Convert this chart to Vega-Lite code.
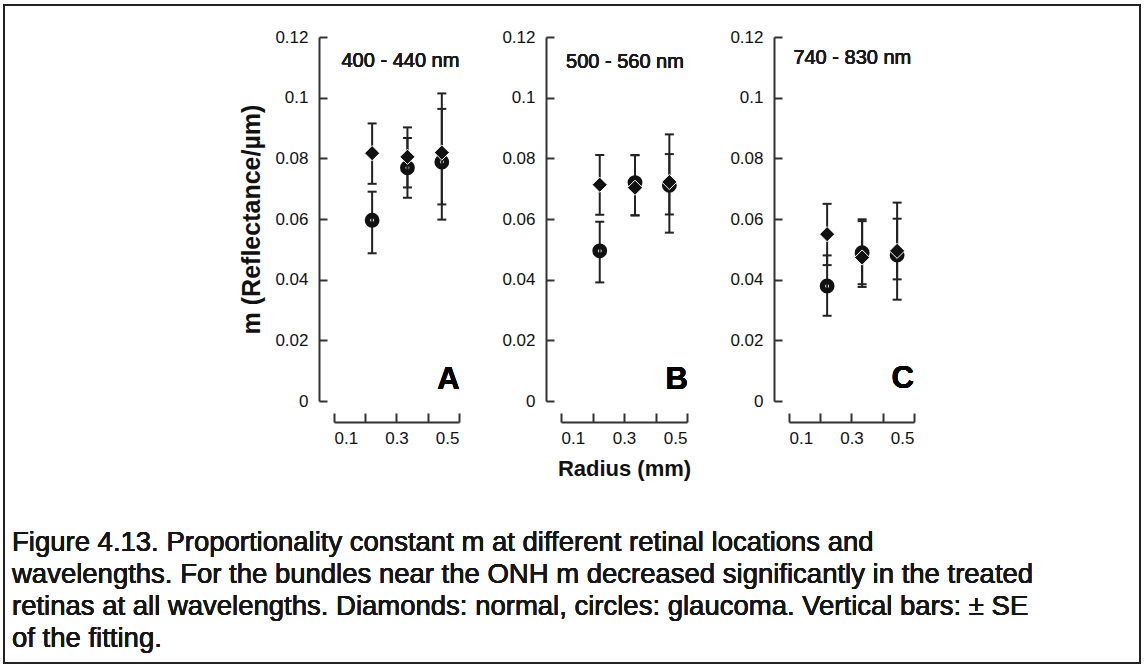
{
  "$schema": "https://vega.github.io/schema/vega-lite/v6.json",
  "padding": {"left": 3, "top": 3, "right": 3, "bottom": 3},
  "background": "white",
  "config": {
    "font": "Liberation Sans",
    "view": {"stroke": null},
    "axis": {"grid": false, "domainColor": "#333", "tickColor": "#333", "domainWidth": 2, "tickWidth": 2, "labelColor": "#111", "labelFont": "Liberation Sans", "labelFontSize": 17, "titleFont": "Liberation Sans", "titleColor": "#111"}
  },
  "datasets": {
    "pts": [
      {"panel": "A", "group": "normal", "radius": 0.222, "m": 0.0817, "lo": 0.0716, "hi": 0.0915},
      {"panel": "A", "group": "glaucoma", "radius": 0.222, "m": 0.0596, "lo": 0.0487, "hi": 0.069},
      {"panel": "A", "group": "normal", "radius": 0.335, "m": 0.0805, "lo": 0.0704, "hi": 0.0902},
      {"panel": "A", "group": "glaucoma", "radius": 0.335, "m": 0.0769, "lo": 0.067, "hi": 0.0867},
      {"panel": "A", "group": "normal", "radius": 0.445, "m": 0.0819, "lo": 0.0648, "hi": 0.1014},
      {"panel": "A", "group": "glaucoma", "radius": 0.445, "m": 0.0788, "lo": 0.0598, "hi": 0.0963},
      {"panel": "B", "group": "normal", "radius": 0.223, "m": 0.0713, "lo": 0.0614, "hi": 0.0811},
      {"panel": "B", "group": "glaucoma", "radius": 0.223, "m": 0.0495, "lo": 0.0391, "hi": 0.0591},
      {"panel": "B", "group": "normal", "radius": 0.335, "m": 0.0703, "lo": 0.0612, "hi": 0.0811},
      {"panel": "B", "group": "glaucoma", "radius": 0.335, "m": 0.072, "lo": 0.0612, "hi": 0.081},
      {"panel": "B", "group": "normal", "radius": 0.444, "m": 0.0722, "lo": 0.0615, "hi": 0.0814},
      {"panel": "B", "group": "glaucoma", "radius": 0.444, "m": 0.0711, "lo": 0.0555, "hi": 0.0879},
      {"panel": "C", "group": "normal", "radius": 0.222, "m": 0.055, "lo": 0.0448, "hi": 0.065},
      {"panel": "C", "group": "glaucoma", "radius": 0.222, "m": 0.0379, "lo": 0.0281, "hi": 0.048},
      {"panel": "C", "group": "normal", "radius": 0.334, "m": 0.0473, "lo": 0.0376, "hi": 0.0599},
      {"panel": "C", "group": "glaucoma", "radius": 0.334, "m": 0.0489, "lo": 0.0385, "hi": 0.0593},
      {"panel": "C", "group": "normal", "radius": 0.446, "m": 0.0495, "lo": 0.0334, "hi": 0.0654},
      {"panel": "C", "group": "glaucoma", "radius": 0.446, "m": 0.0481, "lo": 0.0401, "hi": 0.0601}
    ]
  },
  "bounds": "flush",
  "spacing": 102,
  "hconcat": [
    {
      "width": 125, "height": 364,
      "data": {"name": "pts"},
      "transform": [{"filter": "datum.panel == 'A'"}],
      "encoding": {
        "x": {"field": "radius", "type": "quantitative", "scale": {"domain": [0.1, 0.5], "nice": false, "zero": false},
          "axis": {"title": null, "values": [0.1, 0.2, 0.3, 0.4, 0.5], "format": ".1f", "labelExpr": "indexof(['0.2','0.4'], datum.label) >= 0 ? '' : datum.label", "tickSize": -9, "offset": 21, "labelPadding": 17}},
        "y": {"field": "m", "type": "quantitative", "scale": {"domain": [0, 0.12], "nice": false, "zero": true},
          "axis": {"title": "m (Reflectance/µm)", "titleFontSize": 25, "titleFontWeight": "bold", "titlePadding": 10, "values": [0, 0.02, 0.04, 0.06, 0.08, 0.1, 0.12], "format": ".2~f", "tickSize": -8, "offset": 15, "labelPadding": 19}}
      },
      "layer": [
        {"mark": {"type": "rect", "filled": false, "fill": null, "stroke": "#222", "strokeWidth": 2, "clip": false},
         "encoding": {"x": {"datum": -0.956}, "x2": {"datum": 2.6792}, "y": {"datum": 0.13055}, "y2": {"datum": -0.08637}}},
        {"mark": {"type": "text", "align": "left", "baseline": "top", "fontSize": 27.5, "lineHeight": 32, "fontWeight": 400, "color": "#161616",
          "text": [
            "Figure 4.13. Proportionality constant m at different retinal locations and",
            "wavelengths. For the bundles near the ONH m decreased significantly in the treated",
            "retinas at all wavelengths. Diamonds: normal, circles: glaucoma. Vertical bars: ± SE",
            "of the fitting."
          ]},
         "encoding": {"x": {"datum": -0.9304}, "y": {"datum": -0.0422}}},
        {"mark": {"type": "rule", "strokeWidth": 2, "color": "#222"},
         "encoding": {"y": {"field": "lo", "type": "quantitative", "scale": {"domain": [0, 0.12], "nice": false, "zero": true},
          "axis": {"title": "m (Reflectance/µm)", "titleFontSize": 25, "titleFontWeight": "bold", "titlePadding": 10, "values": [0, 0.02, 0.04, 0.06, 0.08, 0.1, 0.12], "format": ".2~f", "tickSize": -8, "offset": 15, "labelPadding": 19}}, "y2": {"field": "hi"}}},
        {"mark": {"type": "tick", "orient": "horizontal", "size": 9, "thickness": 2, "color": "#222", "opacity": 1},
         "encoding": {"y": {"field": "lo", "type": "quantitative", "scale": {"domain": [0, 0.12], "nice": false, "zero": true},
          "axis": {"title": "m (Reflectance/µm)", "titleFontSize": 25, "titleFontWeight": "bold", "titlePadding": 10, "values": [0, 0.02, 0.04, 0.06, 0.08, 0.1, 0.12], "format": ".2~f", "tickSize": -8, "offset": 15, "labelPadding": 19}}}},
        {"mark": {"type": "tick", "orient": "horizontal", "size": 9, "thickness": 2, "color": "#222", "opacity": 1},
         "encoding": {"y": {"field": "hi", "type": "quantitative", "scale": {"domain": [0, 0.12], "nice": false, "zero": true},
          "axis": {"title": "m (Reflectance/µm)", "titleFontSize": 25, "titleFontWeight": "bold", "titlePadding": 10, "values": [0, 0.02, 0.04, 0.06, 0.08, 0.1, 0.12], "format": ".2~f", "tickSize": -8, "offset": 15, "labelPadding": 19}}}},
        {"transform": [{"filter": "datum.group == 'glaucoma'"}],
         "mark": {"type": "point", "shape": "circle", "filled": false, "stroke": "#111", "strokeWidth": 5.5, "size": 87, "opacity": 1}},
        {"transform": [{"filter": "datum.group == 'normal'"}],
         "mark": {"type": "point", "shape": "diamond", "filled": true, "fill": "#111", "stroke": "white", "strokeWidth": 1, "size": 230, "opacity": 1}},
        {"mark": {"type": "text", "text": "400 - 440 nm", "align": "left", "baseline": "middle", "fontSize": 20, "fontWeight": 400, "color": "#1a1a1a"},
         "encoding": {"x": {"datum": 0.124}, "y": {"datum": 0.112}}},
        {"mark": {"type": "text", "text": "A", "align": "right", "baseline": "alphabetic", "fontSize": 31, "fontWeight": "bold", "color": "#000"},
         "encoding": {"x": {"datum": 0.502}, "y": {"datum": 0.0039}}}
      ]
    },
    {
      "width": 126, "height": 364,
      "data": {"name": "pts"},
      "transform": [{"filter": "datum.panel == 'B'"}],
      "encoding": {
        "x": {"field": "radius", "type": "quantitative", "scale": {"domain": [0.1, 0.5], "nice": false, "zero": false},
          "axis": {"title": "Radius (mm)", "titleFontSize": 22, "titleFontWeight": "bold", "titlePadding": 12, "values": [0.1, 0.2, 0.3, 0.4, 0.5], "format": ".1f", "labelExpr": "indexof(['0.2','0.4'], datum.label) >= 0 ? '' : datum.label", "tickSize": -9, "offset": 21, "labelPadding": 17}},
        "y": {"field": "m", "type": "quantitative", "scale": {"domain": [0, 0.12], "nice": false, "zero": true},
          "axis": {"title": null, "values": [0, 0.02, 0.04, 0.06, 0.08, 0.1, 0.12], "format": ".2~f", "tickSize": -8, "offset": 15, "labelPadding": 19}}
      },
      "layer": [
        {"mark": {"type": "rule", "strokeWidth": 2, "color": "#222"},
         "encoding": {"y": {"field": "lo", "type": "quantitative", "scale": {"domain": [0, 0.12], "nice": false, "zero": true},
          "axis": {"title": null, "values": [0, 0.02, 0.04, 0.06, 0.08, 0.1, 0.12], "format": ".2~f", "tickSize": -8, "offset": 15, "labelPadding": 19}}, "y2": {"field": "hi"}}},
        {"mark": {"type": "tick", "orient": "horizontal", "size": 9, "thickness": 2, "color": "#222", "opacity": 1},
         "encoding": {"y": {"field": "lo", "type": "quantitative", "scale": {"domain": [0, 0.12], "nice": false, "zero": true},
          "axis": {"title": null, "values": [0, 0.02, 0.04, 0.06, 0.08, 0.1, 0.12], "format": ".2~f", "tickSize": -8, "offset": 15, "labelPadding": 19}}}},
        {"mark": {"type": "tick", "orient": "horizontal", "size": 9, "thickness": 2, "color": "#222", "opacity": 1},
         "encoding": {"y": {"field": "hi", "type": "quantitative", "scale": {"domain": [0, 0.12], "nice": false, "zero": true},
          "axis": {"title": null, "values": [0, 0.02, 0.04, 0.06, 0.08, 0.1, 0.12], "format": ".2~f", "tickSize": -8, "offset": 15, "labelPadding": 19}}}},
        {"transform": [{"filter": "datum.group == 'glaucoma'"}],
         "mark": {"type": "point", "shape": "circle", "filled": false, "stroke": "#111", "strokeWidth": 5.5, "size": 87, "opacity": 1}},
        {"transform": [{"filter": "datum.group == 'normal'"}],
         "mark": {"type": "point", "shape": "diamond", "filled": true, "fill": "#111", "stroke": "white", "strokeWidth": 1, "size": 230, "opacity": 1}},
        {"mark": {"type": "text", "text": "500 - 560 nm", "align": "left", "baseline": "middle", "fontSize": 20, "fontWeight": 400, "color": "#1a1a1a"},
         "encoding": {"x": {"datum": 0.116}, "y": {"datum": 0.1116}}},
        {"mark": {"type": "text", "text": "B", "align": "right", "baseline": "alphabetic", "fontSize": 31, "fontWeight": "bold", "color": "#000"},
         "encoding": {"x": {"datum": 0.503}, "y": {"datum": 0.0039}}}
      ]
    },
    {
      "width": 125, "height": 364,
      "data": {"name": "pts"},
      "transform": [{"filter": "datum.panel == 'C'"}],
      "encoding": {
        "x": {"field": "radius", "type": "quantitative", "scale": {"domain": [0.1, 0.5], "nice": false, "zero": false},
          "axis": {"title": null, "values": [0.1, 0.2, 0.3, 0.4, 0.5], "format": ".1f", "labelExpr": "indexof(['0.2','0.4'], datum.label) >= 0 ? '' : datum.label", "tickSize": -9, "offset": 21, "labelPadding": 17}},
        "y": {"field": "m", "type": "quantitative", "scale": {"domain": [0, 0.12], "nice": false, "zero": true},
          "axis": {"title": null, "values": [0, 0.02, 0.04, 0.06, 0.08, 0.1, 0.12], "format": ".2~f", "tickSize": -8, "offset": 15, "labelPadding": 19}}
      },
      "layer": [
        {"mark": {"type": "rule", "strokeWidth": 2, "color": "#222"},
         "encoding": {"y": {"field": "lo", "type": "quantitative", "scale": {"domain": [0, 0.12], "nice": false, "zero": true},
          "axis": {"title": null, "values": [0, 0.02, 0.04, 0.06, 0.08, 0.1, 0.12], "format": ".2~f", "tickSize": -8, "offset": 15, "labelPadding": 19}}, "y2": {"field": "hi"}}},
        {"mark": {"type": "tick", "orient": "horizontal", "size": 9, "thickness": 2, "color": "#222", "opacity": 1},
         "encoding": {"y": {"field": "lo", "type": "quantitative", "scale": {"domain": [0, 0.12], "nice": false, "zero": true},
          "axis": {"title": null, "values": [0, 0.02, 0.04, 0.06, 0.08, 0.1, 0.12], "format": ".2~f", "tickSize": -8, "offset": 15, "labelPadding": 19}}}},
        {"mark": {"type": "tick", "orient": "horizontal", "size": 9, "thickness": 2, "color": "#222", "opacity": 1},
         "encoding": {"y": {"field": "hi", "type": "quantitative", "scale": {"domain": [0, 0.12], "nice": false, "zero": true},
          "axis": {"title": null, "values": [0, 0.02, 0.04, 0.06, 0.08, 0.1, 0.12], "format": ".2~f", "tickSize": -8, "offset": 15, "labelPadding": 19}}}},
        {"transform": [{"filter": "datum.group == 'glaucoma'"}],
         "mark": {"type": "point", "shape": "circle", "filled": false, "stroke": "#111", "strokeWidth": 5.5, "size": 87, "opacity": 1}},
        {"transform": [{"filter": "datum.group == 'normal'"}],
         "mark": {"type": "point", "shape": "diamond", "filled": true, "fill": "#111", "stroke": "white", "strokeWidth": 1, "size": 230, "opacity": 1}},
        {"mark": {"type": "text", "text": "740 - 830 nm", "align": "left", "baseline": "middle", "fontSize": 20, "fontWeight": 400, "color": "#1a1a1a"},
         "encoding": {"x": {"datum": 0.114}, "y": {"datum": 0.113}}},
        {"mark": {"type": "text", "text": "C", "align": "right", "baseline": "alphabetic", "fontSize": 31, "fontWeight": "bold", "color": "#000"},
         "encoding": {"x": {"datum": 0.5}, "y": {"datum": 0.0044}}}
      ]
    }
  ]
}
